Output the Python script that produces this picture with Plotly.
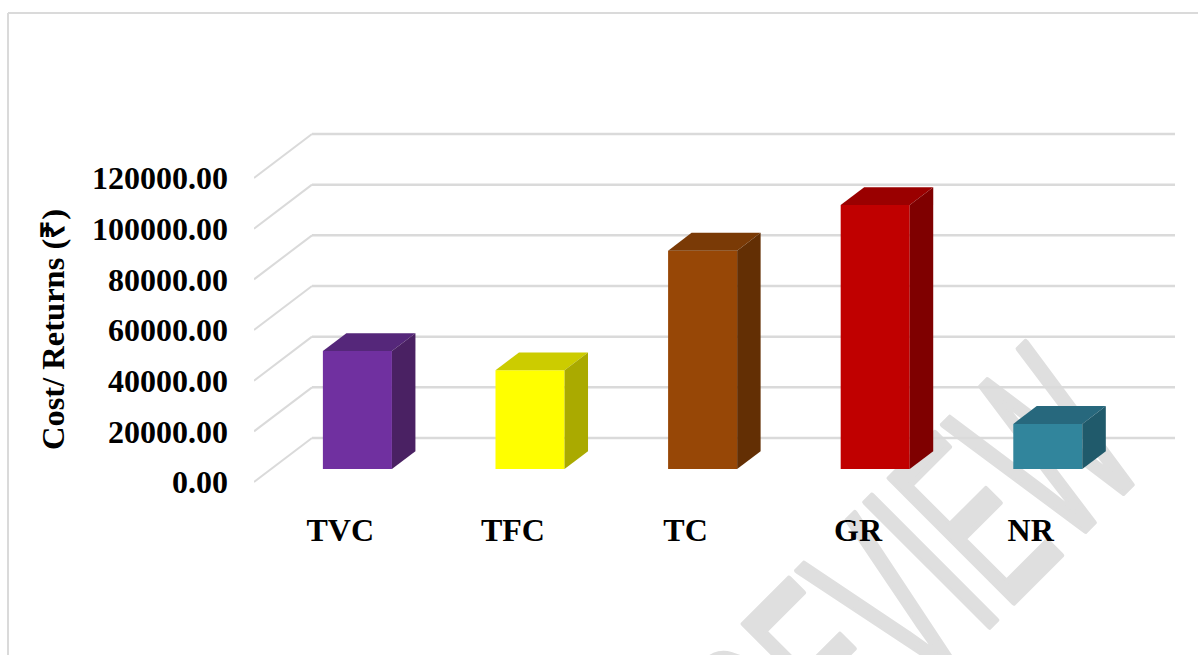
import plotly.graph_objects as go

categories = ["TVC", "TFC", "TC", "GR", "NR"]
values = [46600, 39000, 86200, 104200, 17800]
front_colors = ["#7030A0", "#FFFF00", "#974706", "#C00000", "#31859C"]
top_colors = ["#55277A", "#CCCC00", "#7A3A06", "#9A0000", "#27687D"]
side_colors = ["#4A2163", "#AAAA00", "#632F04", "#7F0000", "#205A6B"]
y_ticks = [0, 20000, 40000, 60000, 80000, 100000, 120000]

# page geometry of the oblique projection
L, R = 254, 1175
ZERO_PX = 482                      # page row of value 0 at the front of the floor
PT, PB = 124, 492                  # page rows of the plot area's top and bottom
Y_PX = 304 / 120000                # page pixels per value unit
DEPTH_Y = 44 / Y_PX                # value units that the full depth rises
DEPTH_X = 58 / 172.6               # category units that the full depth shifts
F, K = 0.295, 0.70                 # front and back depth of the bars
BAR_W = 0.4


def px(x):
    return (x - L) / (R - L)


def py(y):
    return (PB - y) / (PB - PT)


fig = go.Figure()

# bar top and side faces
for i, v in enumerate(values):
    x0 = i + 0.5 - BAR_W / 2
    x1 = i + 0.5 + BAR_W / 2
    fx0, fx1, bx0, bx1 = x0 + F * DEPTH_X, x1 + F * DEPTH_X, x0 + K * DEPTH_X, x1 + K * DEPTH_X
    fb, bb = F * DEPTH_Y, K * DEPTH_Y
    fig.add_trace(go.Scatter(x=[fx0, fx1, bx1, bx0, fx0], y=[v + fb, v + fb, v + bb, v + bb, v + fb],
                             mode="lines", fill="toself", fillcolor=top_colors[i],
                             line=dict(width=0, color=top_colors[i]), hoverinfo="skip", showlegend=False))
    fig.add_trace(go.Scatter(x=[fx1, bx1, bx1, fx1, fx1], y=[fb, bb, v + bb, v + fb, fb],
                             mode="lines", fill="toself", fillcolor=side_colors[i],
                             line=dict(width=0, color=side_colors[i]), hoverinfo="skip", showlegend=False))

# bar front faces
fig.add_trace(go.Bar(x=[i + 0.5 + F * DEPTH_X for i in range(5)], y=values, base=F * DEPTH_Y,
                     width=BAR_W, marker=dict(color=front_colors, line=dict(width=0)), showlegend=False))

FONT = "Liberation Serif"
GRID = "#DADADA"
shapes = [
    dict(type="line", xref="paper", yref="paper", layer="below", x0=px(8), x1=px(8), y0=py(13), y1=py(655),
         line=dict(color=GRID, width=2)),
    dict(type="line", xref="paper", yref="paper", layer="below", x0=px(8), x1=px(1198), y0=py(13), y1=py(13),
         line=dict(color=GRID, width=2)),
    dict(type="line", xref="paper", yref="paper", layer="below",
         x0=px(813), y0=py(644), x1=px(913), y1=py(544), line=dict(width=0, color="rgba(0,0,0,0)"),
         label=dict(text="PREVIEW", textangle=-45, textposition="middle", xanchor="center", yanchor="middle",
                    font=dict(family="Liberation Sans", size=255, color="#DFDFDF"))),
]
# floor diagonals and back wall lines, under the bars
for v in y_ticks:
    shapes.append(dict(type="line", xref="x", yref="y", layer="below", x0=0, y0=v, x1=DEPTH_X, y1=v + DEPTH_Y,
                       line=dict(color=GRID, width=2)))
    shapes.append(dict(type="line", xref="x", yref="y", layer="below", x0=DEPTH_X, y0=v + DEPTH_Y,
                       x1=5 + DEPTH_X, y1=v + DEPTH_Y, line=dict(color=GRID, width=2.5)))

fig.update_layout(
    width=1198, height=655, margin=dict(l=L, r=1198 - R, t=PT, b=655 - PB),
    paper_bgcolor="white", plot_bgcolor="rgba(0,0,0,0)", barmode="overlay",
    font=dict(family=FONT, color="black"),
    xaxis=dict(range=[0, 5 + DEPTH_X], tickmode="array", tickvals=[i + 0.5 for i in range(5)],
               ticktext=categories, showgrid=False, zeroline=False, showline=False, ticks="",
               tickfont=dict(family=FONT, size=32, weight="bold"), ticklabelstandoff=16),
    yaxis=dict(range=[(ZERO_PX - PB) / Y_PX, (ZERO_PX - PT) / Y_PX], tickmode="array", tickvals=y_ticks,
               tickformat=".2f", showgrid=False, zeroline=False, showline=False, ticks="",
               tickfont=dict(family=FONT, size=32, weight="bold"), ticklabelstandoff=25),
    shapes=shapes,
    annotations=[dict(text="<b>Cost/ Returns (₹)</b>", textangle=-90, xref="paper", yref="paper",
                      x=px(53), y=py(330), xanchor="center", yanchor="middle", showarrow=False,
                      font=dict(family=FONT, size=32.5))],
)

post = """
document.body.style.margin = '0';
document.querySelectorAll('text').forEach(function (t) {
  if (t.textContent === 'PREVIEW') {
    t.setAttribute('textLength', '590');
    t.setAttribute('lengthAdjust', 'spacingAndGlyphs');
    t.style.stroke = '#DFDFDF';
    t.style.strokeWidth = '6px';
    t.style.strokeLinejoin = 'round';
  }
});
"""
fig.write_html("out.html", post_script=post, config={"displayModeBar": False})
